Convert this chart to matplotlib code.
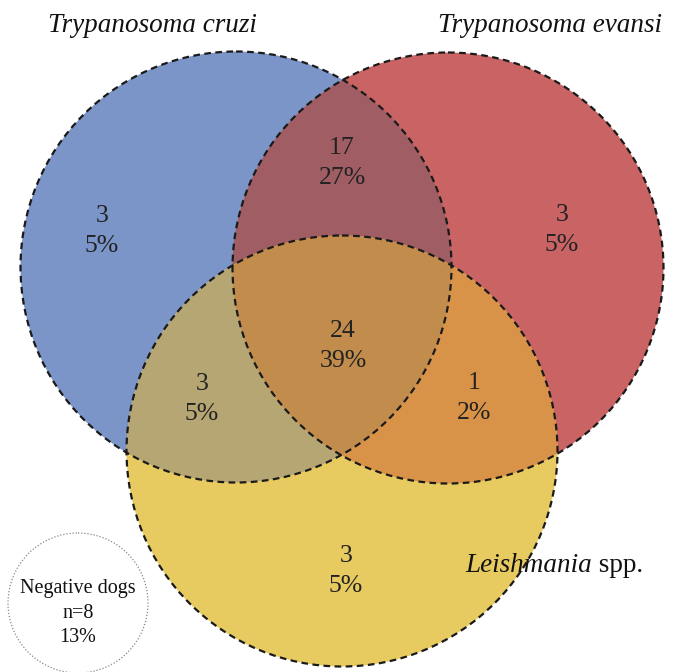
import numpy as np
import matplotlib.pyplot as plt
from matplotlib.patches import Circle, Polygon

plt.rcParams['font.family'] = ['Liberation Serif', 'DejaVu Serif']

# sets and region counts
sets = ['Trypanosoma cruzi', 'Trypanosoma evansi', 'Leishmania']
regions = ['C', 'E', 'L', 'CE', 'CL', 'EL', 'CEL']
counts = [3, 3, 3, 17, 3, 1, 24]
percents = [5, 5, 5, 27, 5, 2, 39]
neg_n = 8
neg_pct = 13

# colours of each region (alone / overlaps)
col = {'C': '#7c95c8', 'E': '#c96364', 'L': '#e8cb60',
       'CE': '#a05d63', 'CL': '#b6a674', 'EL': '#d99348', 'CEL': '#c28c4d'}

# layout in pixel space
R = 215.5
centers = {'C': (236, 267), 'E': (448, 268), 'L': (342, 451)}
label_pos = {'C': (102, 231), 'E': (562, 230), 'L': (346, 571),
             'CE': (342, 163), 'CL': (202, 399), 'EL': (474, 398),
             'CEL': (343, 346)}

fig = plt.figure(figsize=(6.77, 6.72), dpi=100)
ax = fig.add_axes([0, 0, 1, 1])
ax.set_xlim(0, 677)
ax.set_ylim(672, 0)
ax.set_aspect('equal')
ax.axis('off')


def lens(a, b, n=400):
    # intersection polygon of two equal circles
    ca, cb = np.array(centers[a]), np.array(centers[b])
    t = np.linspace(0, 2 * np.pi, n)
    ring = np.c_[np.cos(t), np.sin(t)] * R
    pa = ca + ring
    pb = cb + ring
    pts = np.vstack([pa[np.linalg.norm(pa - cb, axis=1) <= R],
                     pb[np.linalg.norm(pb - ca, axis=1) <= R]])
    m = pts.mean(axis=0)
    order = np.argsort(np.arctan2(pts[:, 1] - m[1], pts[:, 0] - m[0]))
    return pts[order]


# single circles
for k in ['C', 'E', 'L']:
    ax.add_patch(Circle(centers[k], R, facecolor=col[k], edgecolor='none', zorder=1))

# pairwise overlaps
for a, b in [('C', 'E'), ('C', 'L'), ('E', 'L')]:
    clip = Circle(centers[b], R, transform=ax.transData, facecolor='none')
    p = Circle(centers[a], R, facecolor=col[a + b], edgecolor='none', zorder=2)
    ax.add_patch(p)
    p.set_clip_path(clip)

# triple overlap
lens_ce = Polygon(lens('C', 'E'), closed=True, transform=ax.transData, facecolor='none')
p = Circle(centers['L'], R, facecolor=col['CEL'], edgecolor='none', zorder=3)
ax.add_patch(p)
p.set_clip_path(lens_ce)

# dashed outlines
for k in ['C', 'E', 'L']:
    ax.add_patch(Circle(centers[k], R, facecolor='none', edgecolor='#1a1a1a',
                        lw=1.6, linestyle=(0, (3, 2)), zorder=5))

# region labels
for r, c, pc in zip(regions, counts, percents):
    x, y = label_pos[r]
    ax.text(x, y, f'{c}\n{pc}%', ha='center', va='center', fontsize=18.5,
            color='#222222', linespacing=1.45, zorder=6)

# set names
ax.text(152, 25, sets[0], ha='center', va='center', fontsize=19.5,
        style='italic', color='#111111')
ax.text(550, 25, sets[1], ha='center', va='center', fontsize=19.5,
        style='italic', color='#111111')
t = ax.text(465, 565, sets[2], ha='left', va='center', fontsize=19.5,
            style='italic', color='#111111', zorder=6)
ax.annotate(' spp.', xy=(1, 0.5), xycoords=t, ha='left', va='center',
            fontsize=19.5, color='#111111', zorder=6)

# negative dogs
ax.add_patch(Circle((78, 603), 70, facecolor='none', edgecolor='#888888',
                    lw=0.9, linestyle=(0, (1, 1.5)), zorder=5))
ax.text(78, 613, f'Negative dogs\nn={neg_n}\n{neg_pct}%', ha='center', va='center',
        fontsize=14.5, color='#111111', linespacing=1.4)

fig.savefig('out.png', dpi=100)
